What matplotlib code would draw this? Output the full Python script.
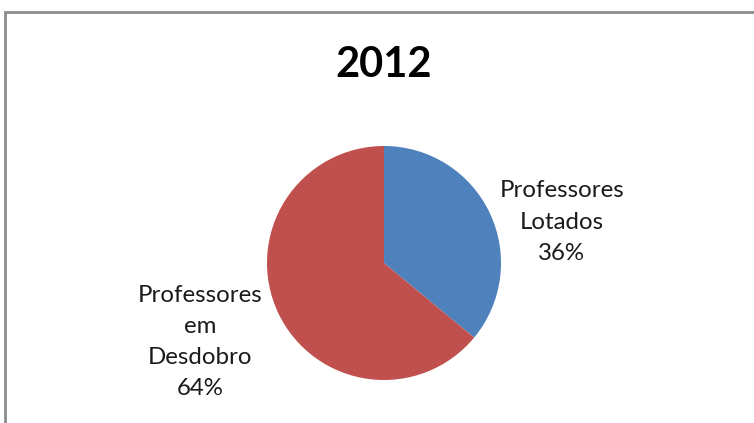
import matplotlib.pyplot as plt
from matplotlib.patches import Rectangle

labels = ["Professores\nLotados", "Professores\nem\nDesdobro"]
values = [36, 64]
colors = ["#4F81BD", "#C0504D"]
title = "2012"

W, H = 754, 423
fig = plt.figure(figsize=(W / 100, H / 100), dpi=100)
plt.rcParams['font.family'] = ['Lato', 'DejaVu Sans']

# chart frame (runs off the right and bottom edges)
fig.patches.append(Rectangle((5 / W, -0.1), 1.2, (H - 12) / H + 0.1,
                             transform=fig.transFigure, fill=False,
                             edgecolor="#8c8c8c", linewidth=2))

cx, cy, r = 384, 263, 117
ax = fig.add_axes([(cx - r) / W, (H - cy - r) / H, 2 * r / W, 2 * r / H])
ax.pie(values, colors=colors, startangle=90, counterclock=False,
       wedgeprops=dict(linewidth=0))
ax.set_xlim(-1, 1)
ax.set_ylim(-1, 1)
ax.set_aspect('equal')
ax.axis('off')

total = sum(values)
pos = [(1.52, 0.35), (-1.57, -0.675)]
for lab, v, (x, y) in zip(labels, values, pos):
    ax.text(x, y, f"{lab}\n{round(100 * v / total)}%", ha='center', va='center',
            fontsize=17.3, color="#1a1a1a", linespacing=1.6, clip_on=False)

fig.text(cx / W, 1 - 65 / H, title, ha='center', va='center',
         fontsize=30, fontweight='bold', color='black')

fig.savefig("out.png", dpi=100)
